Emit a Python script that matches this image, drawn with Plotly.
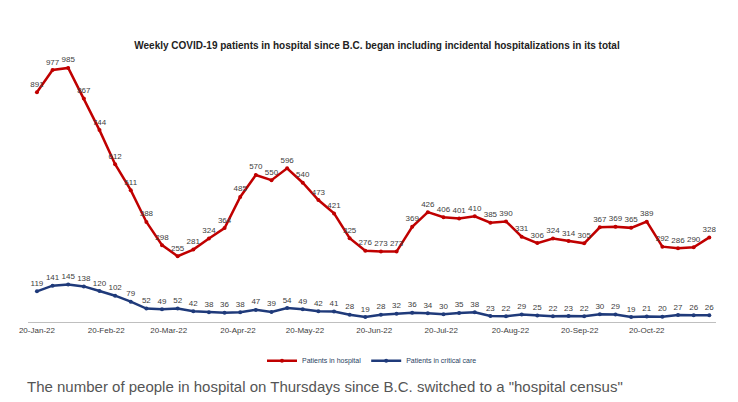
import pandas as pd

import plotly.graph_objects as go

# Haftalık veriler (Perşembe günleri)
dates = pd.date_range('2022-01-20', periods=44, freq='7D')

hospital = [891, 977, 985, 867, 744, 612, 511, 388, 298, 255, 281, 324, 364, 485, 570,
            550, 596, 540, 473, 421, 325, 276, 273, 273, 369, 426, 406, 401, 410, 385,
            390, 331, 306, 324, 314, 305, 367, 369, 365, 389, 292, 286, 290, 328]

critical = [119, 141, 145, 138, 120, 102, 79, 52, 49, 52, 42, 38, 36, 38, 47,
            39, 54, 49, 42, 41, 28, 19, 28, 32, 36, 34, 30, 35, 38, 23,
            22, 29, 25, 22, 23, 22, 30, 29, 19, 21, 20, 27, 26, 26]

tick_dates  = pd.to_datetime(['2022-01-20', '2022-02-20', '2022-03-20', '2022-04-20', '2022-05-20',
                              '2022-06-20', '2022-07-20', '2022-08-20', '2022-09-20', '2022-10-20'])
tick_labels = ['20-Jan-22', '20-Feb-22', '20-Mar-22', '20-Apr-22', '20-May-22',
               '20-Jun-22', '20-Jul-22', '20-Aug-22', '20-Sep-22', '20-Oct-22']


def add_series(fig: go.Figure, values: list, name: str, color: str):
    # Çizgi + nokta + değer etiketleri
    fig.add_trace(go.Scatter(
        x = dates,
        y = values,

        mode         = 'lines+markers+text',
        name         = name,
        text         = [str(v) for v in values],
        textposition = 'top center',
        textfont     = dict(size=8, color='#404040'),
        line         = dict(color=color, width=2.5),
        marker       = dict(size=4, color=color)
    ))


fig = go.Figure()
add_series(fig, hospital, 'Patients in hospital', '#c00000')
add_series(fig, critical, 'Patients in critical care', '#1f3a7a')

fig.update_layout(
    title = dict(text='<b>Weekly COVID-19 patients in hospital since B.C. began including incidental hospitalizations in its total</b>',
                 x=0.5, y=0.915, font=dict(size=10, color='#222')),
    font          = dict(family='Liberation Sans'),
    width         = 738,
    height        = 402,
    plot_bgcolor  = 'white',
    paper_bgcolor = 'white',
    showlegend    = True,
    legend        = dict(orientation='h', x=0.5, xanchor='center', y=-0.09, font=dict(size=7)),
    margin        = dict(l=20, r=30, t=45, b=88),

    xaxis = dict(tickvals=tick_dates, ticktext=tick_labels, tickfont=dict(size=8, color='#404040'),
                 range=['2022-01-16', '2022-11-20'], showgrid=False, showline=True,
                 linecolor='#bfbfbf', ticks=''),
    yaxis = dict(range=[0, 1043], visible=False)
)

fig.add_annotation(
    x = -0.005, y = -0.2, xref='paper', yref='paper', xanchor='left', yanchor='top', align='left',
    text      = 'The number of people in hospital on Thursdays since B.C. switched to a "hospital census"',
    showarrow = False,
    font      = dict(size=15, color='#555')
)

fig.write_html('out.html')
